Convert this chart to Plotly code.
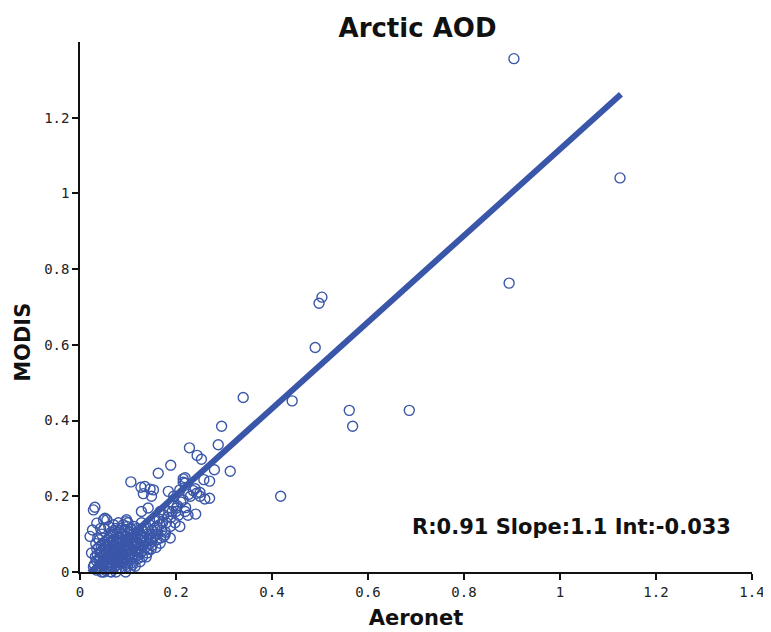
import plotly.graph_objects as go

# AOD pairs (Aeronet on x, MODIS on y)
aeronet = [
    0.904, 1.125, 0.894, 0.504, 0.498, 0.490, 0.340, 0.442, 0.561, 0.568,
    0.686, 0.418, 0.295, 0.288, 0.228, 0.244, 0.253, 0.313, 0.189, 0.163,
    0.215, 0.215, 0.258, 0.243, 0.250, 0.270, 0.260, 0.241, 0.219, 0.188,
    0.184, 0.208, 0.153, 0.135, 0.106, 0.127, 0.146, 0.028, 0.031, 0.049,
    0.056, 0.021, 0.026, 0.096, 0.177, 0.167, 0.125, 0.024, 0.028, 0.080,
    0.042, 0.063, 0.132, 0.149, 0.201, 0.142, 0.167, 0.128, 0.097, 0.035,
    0.052, 0.174, 0.219, 0.219, 0.195, 0.205, 0.225,
    0.030, 0.032, 0.035, 0.038, 0.040, 0.042, 0.044, 0.046, 0.048, 0.050,
    0.050, 0.052, 0.054, 0.055, 0.057, 0.058, 0.060, 0.060, 0.062, 0.063,
    0.065, 0.066, 0.068, 0.070, 0.070, 0.072, 0.073, 0.075, 0.076, 0.078,
    0.080, 0.080, 0.082, 0.084, 0.085, 0.086, 0.088, 0.090, 0.090, 0.092,
    0.094, 0.095, 0.097, 0.098, 0.100, 0.100, 0.102, 0.104, 0.105, 0.107,
    0.108, 0.110, 0.112, 0.113, 0.115, 0.117, 0.118, 0.120, 0.122, 0.124,
    0.126, 0.128, 0.130, 0.132, 0.135, 0.137, 0.140, 0.142, 0.145, 0.148,
    0.150, 0.155, 0.158, 0.160, 0.165, 0.170, 0.175, 0.180, 0.185, 0.190,
    0.195, 0.200, 0.210, 0.220, 0.230, 0.240, 0.250, 0.270, 0.280,
    0.035, 0.045, 0.055, 0.065, 0.075, 0.085, 0.095, 0.040, 0.045, 0.050,
    0.060, 0.065, 0.070, 0.075, 0.080, 0.085, 0.090, 0.100, 0.110, 0.120,
    0.130, 0.140, 0.150, 0.160, 0.105, 0.115, 0.033, 0.037, 0.043, 0.058,
    0.068, 0.078, 0.088, 0.098, 0.108, 0.118, 0.128, 0.138, 0.148, 0.158,
    0.168, 0.178, 0.188, 0.198, 0.208,
    0.034, 0.036, 0.039, 0.041, 0.043, 0.045, 0.047, 0.049, 0.051, 0.053,
    0.053, 0.056, 0.057, 0.059, 0.061, 0.061, 0.063, 0.064, 0.066, 0.067,
    0.069, 0.069, 0.071, 0.072, 0.074, 0.074, 0.076, 0.077, 0.079, 0.079,
    0.081, 0.081, 0.083, 0.083, 0.085, 0.087, 0.087, 0.089, 0.089, 0.091,
    0.093, 0.093, 0.096, 0.096, 0.099, 0.099, 0.101, 0.103, 0.103, 0.106,
    0.106, 0.109, 0.109, 0.111, 0.114, 0.114, 0.116, 0.119, 0.119, 0.121,
    0.123, 0.125, 0.127, 0.129, 0.131, 0.133, 0.136, 0.139, 0.141, 0.144,
    0.146, 0.152, 0.156, 0.162, 0.166, 0.172, 0.182, 0.192, 0.203, 0.215,
    0.226, 0.236,
]
modis = [
    1.356, 1.041, 0.763, 0.726, 0.710, 0.593, 0.461, 0.452, 0.427, 0.385,
    0.427, 0.200, 0.385, 0.336, 0.328, 0.308, 0.298, 0.266, 0.282, 0.261,
    0.246, 0.237, 0.244, 0.208, 0.200, 0.195, 0.193, 0.153, 0.160, 0.120,
    0.213, 0.217, 0.217, 0.226, 0.238, 0.224, 0.219, 0.164, 0.171, 0.138,
    0.138, 0.094, 0.111, 0.133, 0.098, 0.076, 0.027, 0.050, 0.014, -0.003,
    -0.003, 0.001, 0.207, 0.200, 0.169, 0.169, 0.160, 0.160, 0.138, 0.129,
    0.142, 0.094, 0.249, 0.235, 0.200, 0.150, 0.150,
    0.020, 0.040, 0.060, 0.010, 0.030, 0.050, 0.070, 0.020, 0.040, 0.000,
    0.060, 0.080, 0.030, 0.050, 0.010, 0.070, 0.040, 0.090, 0.020, 0.060,
    0.000, 0.045, 0.080, 0.030, 0.100, 0.055, 0.015, 0.070, 0.040, 0.090,
    0.025, 0.060, 0.110, 0.045, 0.080, 0.010, 0.065, 0.035, 0.100, 0.050,
    0.085, 0.020, 0.070, 0.120, 0.045, 0.090, 0.060, 0.030, 0.105, 0.075,
    0.050, 0.090, 0.065, 0.120, 0.040, 0.080, 0.100, 0.060, 0.110, 0.085,
    0.050, 0.130, 0.095, 0.070, 0.115, 0.080, 0.100, 0.060, 0.125, 0.090,
    0.110, 0.135, 0.100, 0.120, 0.140, 0.110, 0.150, 0.130, 0.160, 0.145,
    0.175, 0.160, 0.185, 0.170, 0.200, 0.220, 0.210, 0.240, 0.270,
    0.005, 0.000, 0.015, 0.025, 0.000, 0.030, 0.000, 0.085, 0.100, 0.115,
    0.120, 0.105, 0.125, 0.115, 0.130, 0.100, 0.125, 0.130, 0.020, 0.035,
    0.040, 0.050, 0.070, 0.085, 0.010, 0.015, 0.075, 0.090, 0.115, 0.025,
    0.050, 0.020, 0.045, 0.030, 0.040, 0.055, 0.070, 0.040, 0.060, 0.065,
    0.090, 0.105, 0.090, 0.130, 0.120,
    0.030, 0.045, 0.065, 0.015, 0.035, 0.055, 0.075, 0.025, 0.045, 0.065,
    0.005, 0.035, 0.085, 0.055, 0.010, 0.075, 0.035, 0.095, 0.065, 0.015,
    0.040, 0.085, 0.060, 0.110, 0.025, 0.050, 0.080, 0.100, 0.040, 0.065,
    0.010, 0.090, 0.055, 0.075, 0.115, 0.025, 0.050, 0.080, 0.095, 0.065,
    0.040, 0.110, 0.055, 0.080, 0.100, 0.015, 0.070, 0.085, 0.045, 0.060,
    0.115, 0.080, 0.025, 0.100, 0.055, 0.070, 0.095, 0.075, 0.115, 0.045,
    0.065, 0.100, 0.085, 0.055, 0.110, 0.090, 0.065, 0.085, 0.115, 0.075,
    0.100, 0.090, 0.115, 0.100, 0.125, 0.130, 0.145, 0.160, 0.175, 0.190,
    0.205, 0.215,
]

# regression line end points
fit_x = [0.02, 1.127]
fit_y = [-0.002, 1.262]

BLUE = "#3a56a8"
INK = "#111"

fig = go.Figure()
fig.add_trace(go.Scatter(
    x=aeronet, y=modis, mode="markers",
    marker=dict(symbol="circle-open", size=10, color=BLUE, line=dict(width=1.4, color=BLUE)),
    showlegend=False, cliponaxis=False,
))
fig.add_trace(go.Scatter(
    x=fit_x, y=fit_y, mode="lines",
    line=dict(color=BLUE, width=6),
    showlegend=False,
))

fig.add_annotation(
    text="R:0.91 Slope:1.1 Int:-0.033",
    xref="paper", yref="paper", x=0.972, y=0.085,
    xanchor="right", yanchor="middle", showarrow=False,
    font=dict(family="DejaVu Sans", size=21, color=INK, weight="bold"),
)
# y title placed by pixel position of the reference (sits below axis centre)
fig.add_annotation(
    text="MODIS", textangle=-90,
    xref="paper", yref="paper", x=-0.085, y=0.434,
    xanchor="center", yanchor="middle", showarrow=False,
    font=dict(family="DejaVu Sans", size=21, color=INK, weight="bold"),
)

axis_common = dict(
    range=[0, 1.4], showgrid=False, zeroline=False, automargin=False,
    showline=True, linecolor=INK, linewidth=1.5,
    ticks="outside", ticklen=6, tickwidth=1.5, tickcolor=INK,
    tickfont=dict(family="DejaVu Sans Mono", size=14, color="#222"),
    dtick=0.2, tick0=0,
)

# page body has an 8px margin, so the figure is drawn 8px smaller
fig.update_layout(
    width=763, height=624,
    margin=dict(l=72, r=19, t=34, b=60),
    plot_bgcolor="white", paper_bgcolor="white",
    title=dict(text="Arctic AOD", x=0.5367, xanchor="center", y=0.968, yanchor="middle",
               font=dict(family="DejaVu Sans", size=26, color=INK, weight="bold")),
    xaxis=dict(axis_common,
               title=dict(text="Aeronet", standoff=12,
                          font=dict(family="DejaVu Sans", size=21, color=INK, weight="bold"))),
    yaxis=dict(axis_common, tickvals=[0, 0.2, 0.4, 0.6, 0.8, 1, 1.2]),
)

fig.write_html("out.html")
